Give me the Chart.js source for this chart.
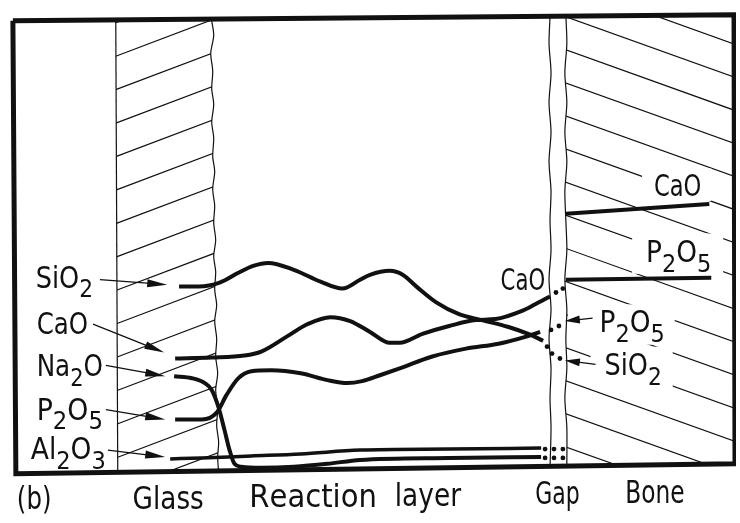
<!DOCTYPE html>
<html>
<head>
<meta charset="utf-8">
<script src="https://cdn.jsdelivr.net/npm/chart.js@4.4.1/dist/chart.umd.min.js"></script>
<style>
  html, body { margin: 0; background: #fff; }
  canvas { display: block; }
</style>
</head>
<body>
<canvas id="diagram" width="740" height="523"></canvas>
<script>
// values, in drawing units (x to the right, y downwards)

// concentration traces across glass / reaction layer
const sio2Trace = [[177,287],[197,287],[218,283],[237,273],[252,266],[267,263],[293,270],[320,282],[342,289],[360,280],[370,275],[390,271],[403,275],[417,287],[437,303],[460,315],[483,321],[510,328],[530,335],[545,342]];
const caoTrace = [[173,360],[210,359],[243,357],[260,353],[287,337],[307,325],[330,318],[350,322],[370,333],[390,344],[400,344],[423,335],[450,327],[477,321],[497,320],[523,312],[537,305],[552,297]];
const na2oTrace = [[172,378],[190,380],[203,385],[210,392],[217,410],[223,433],[228,453],[233,467],[240,470],[260,471],[293,470],[327,467],[360,463],[450,461],[543,460]];
const p2o5Trace = [[173,422],[200,422],[215,415],[225,397],[237,380],[250,373],[270,372],[300,375],[327,382],[347,385],[362,383],[380,377],[400,370],[433,358],[467,350],[500,345],[527,338],[542,333]];
const al2o3Trace = [[168,462],[200,461],[250,459],[300,457],[360,453],[450,452],[543,451]];

// levels in the bone
const caoBone = [[568,213],[713,203]];
const p2o5Bone = [[568,280],[715,278]];

// dotted continuation across the gap
const caoGapDots = [[558,293],[565,289]];
const p2o5GapDots = [[553,331],[561,327]];
const sio2GapDots = [[549,348],[554,355],[562,360]];
const al2o3GapDots = [[547,452],[556,452],[565,452]];
const na2oGapDots = [[547,461],[556,461],[565,461]];

// region outlines
const frameOutline = [[9,17],[738,11],[739,467],[12,477],[9,17]];
const glassInner = [[113,17],[115,476]];
const glassEdge = [[210,17],[212,32],[209,50],[211,68],[210,86],[212,102],[210,120],[212,136],[211,155],[213,170],[211,188],[213,205],[212,222],[214,240],[212,256],[214,272],[213,290],[215,306],[213,322],[215,340],[214,358],[216,375],[214,392],[216,410],[215,428],[217,445],[216,460],[217,476]];
const gapLeft = [[552,13],[551,40],[553,70],[551,100],[553,130],[551,160],[553,190],[552,220],[553,250],[551,280],[553,310],[551,340],[553,370],[552,400],[553,430],[552,470]];
const gapRight = [[568,12],[569,40],[567,70],[569,100],[567,130],[569,160],[567,190],[568,220],[569,250],[567,280],[569,310],[568,340],[569,370],[567,400],[569,430],[569,468]];

const pts = a => a.map(([x, y]) => ({ x, y }));
const INK = '#111';

const trace = (d, w) => ({ data: pts(d), borderColor: INK, borderWidth: w, pointRadius: 0, cubicInterpolationMode: 'monotone', fill: false });
const outline = (d, w, t) => ({ data: pts(d), borderColor: INK, borderWidth: w, pointRadius: 0, tension: t, fill: false });
const dots = d => ({ data: pts(d), showLine: false, pointRadius: 2.4, pointBackgroundColor: INK, pointBorderWidth: 0 });

// labels: t uses "_" for a subscript character; w = width the text should span
const labels = [
  { t: 'SiO_2', x: 32, y: 288, w: 58, size: 30 },
  { t: 'CaO', x: 33, y: 335, w: 52, size: 30 },
  { t: 'Na_2O', x: 33, y: 378, w: 67, size: 30 },
  { t: 'P_2O_5', x: 33, y: 422, w: 67, size: 30 },
  { t: 'Al_2O_3', x: 27, y: 462, w: 76, size: 30 },
  { t: 'CaO', x: 502, y: 290, w: 45, size: 30 },
  { t: 'CaO', x: 657, y: 195, w: 48, size: 30, box: [645, 167, 715, 200] },
  { t: 'P_2O_5', x: 649, y: 262, w: 66, size: 30, box: [635, 233, 727, 274] },
  { t: 'P_2O_5', x: 602, y: 333, w: 66, size: 30, box: [570, 305, 678, 346] },
  { t: 'SiO_2', x: 607, y: 377, w: 58, size: 30, box: [593, 348, 676, 390] },
  { t: '(b)', x: 13, y: 513, w: 35, size: 32 },
  { t: 'Glass', x: 130, y: 513, w: 72, size: 32 },
  { t: 'Reaction', x: 248, y: 511, w: 129, size: 32 },
  { t: 'layer', x: 395, y: 510, w: 67, size: 32 },
  { t: 'Gap', x: 537, y: 508, w: 45, size: 32 },
  { t: 'Bone', x: 628, y: 507, w: 60, size: 32 }
];

// leader arrows: from label to tip
const arrows = [
  [97, 280, 165, 285], [90, 325, 162, 354], [103, 367, 163, 378],
  [103, 412, 163, 422], [105, 453, 163, 460],
  [595, 319, 567, 322], [598, 366, 567, 362]
];

const hatchPlugin = {
  id: 'hatch',
  beforeDatasetsDraw(chart) {
    const { ctx } = chart;
    const X = v => chart.scales.x.getPixelForValue(v);
    const Y = v => chart.scales.y.getPixelForValue(v);
    const clipTo = poly => {
      ctx.beginPath();
      poly.forEach(([x, y], i) => i ? ctx.lineTo(X(x), Y(y)) : ctx.moveTo(X(x), Y(y)));
      ctx.closePath();
      ctx.clip();
    };
    ctx.save();
    ctx.strokeStyle = INK;
    ctx.lineWidth = 1.2;

    // glass: lines rising to the right
    ctx.save();
    clipTo([glassInner[0], ...glassEdge, glassInner[1]]);
    for (let k = 0; k < 15; k++) {
      const y0 = 19 + 34 * k;
      ctx.beginPath();
      ctx.moveTo(X(113), Y(y0));
      ctx.lineTo(X(220), Y(y0 - 0.38 * 107));
      ctx.stroke();
    }
    ctx.restore();

    // bone: lines falling to the right
    ctx.save();
    clipTo([...gapRight, [739, 467], [738, 11]]);
    for (let k = -6; k < 15; k++) {
      const y0 = 13 + 33.6 * k;
      ctx.beginPath();
      ctx.moveTo(X(566), Y(y0 - 0.36 * 2));
      ctx.lineTo(X(742), Y(y0 + 0.36 * 174));
      ctx.stroke();
    }
    ctx.restore();

    // clear the hatching behind the bone labels
    ctx.fillStyle = '#fff';
    labels.filter(l => l.box).forEach(l => {
      const [x1, y1, x2, y2] = l.box;
      ctx.fillRect(X(x1), Y(y1), X(x2) - X(x1), Y(y2) - Y(y1));
    });
    ctx.restore();
  }
};

const annotatePlugin = {
  id: 'annotate',
  afterDatasetsDraw(chart) {
    const { ctx } = chart;
    const X = v => chart.scales.x.getPixelForValue(v);
    const Y = v => chart.scales.y.getPixelForValue(v);
    ctx.save();
    ctx.strokeStyle = INK;
    ctx.fillStyle = INK;

    arrows.forEach(([x1, y1, x2, y2]) => {
      const ax = X(x1), ay = Y(y1), bx = X(x2), by = Y(y2);
      const ang = Math.atan2(by - ay, bx - ax);
      const len = Math.hypot(bx - ax, by - ay) > 40 ? 20 : 15;
      ctx.lineWidth = 1.3;
      ctx.beginPath();
      ctx.moveTo(ax, ay);
      ctx.lineTo(bx - len * Math.cos(ang) * 0.5, by - len * Math.sin(ang) * 0.5);
      ctx.stroke();
      ctx.beginPath();
      ctx.moveTo(bx, by);
      ctx.lineTo(bx - len * Math.cos(ang) + 4 * Math.sin(ang), by - len * Math.sin(ang) - 4 * Math.cos(ang));
      ctx.lineTo(bx - len * Math.cos(ang) - 4 * Math.sin(ang), by - len * Math.sin(ang) + 4 * Math.cos(ang));
      ctx.closePath();
      ctx.fill();
    });

    labels.forEach(l => {
      const parts = [];
      for (let i = 0; i < l.t.length; i++) {
        if (l.t[i] === '_') { parts.push({ c: l.t[i + 1], sub: true }); i++; }
        else parts.push({ c: l.t[i], sub: false });
      }
      const font = s => `${s}px "DejaVu Sans", sans-serif`;
      const subSize = l.size * 0.85;
      let natural = 0;
      parts.forEach(p => {
        ctx.font = font(p.sub ? subSize : l.size);
        p.w = ctx.measureText(p.c).width;
        natural += p.w;
      });
      const target = X(l.x + l.w) - X(l.x);
      ctx.save();
      ctx.translate(X(l.x), Y(l.y));
      ctx.scale(target / natural, 1);
      ctx.textBaseline = 'alphabetic';
      let cx = 0;
      parts.forEach(p => {
        ctx.font = font(p.sub ? subSize : l.size);
        ctx.fillText(p.c, cx, p.sub ? l.size * 0.33 : 0);
        cx += p.w;
      });
      ctx.restore();
    });
    ctx.restore();
  }
};

new Chart(document.getElementById('diagram'), {
  type: 'line',
  data: {
    datasets: [
      trace(sio2Trace, 4),
      trace(caoTrace, 4),
      trace(na2oTrace, 4),
      trace(p2o5Trace, 4),
      trace(al2o3Trace, 3.5),
      outline(caoBone, 4, 0),
      outline(p2o5Bone, 4, 0),
      dots(caoGapDots),
      dots(p2o5GapDots),
      dots(sio2GapDots),
      dots(al2o3GapDots),
      dots(na2oGapDots),
      outline(glassInner, 1.2, 0),
      outline(glassEdge, 1.2, 0.3),
      outline(gapLeft, 1.2, 0.3),
      outline(gapRight, 1.2, 0.3),
      outline(frameOutline, 5, 0)
    ]
  },
  options: {
    responsive: false,
    animation: false,
    events: [],
    layout: { padding: 0 },
    plugins: { legend: { display: false }, tooltip: { enabled: false } },
    scales: {
      x: { type: 'linear', min: 0, max: 740, display: false },
      y: { type: 'linear', min: 0, max: 523, reverse: true, display: false }
    }
  },
  plugins: [hatchPlugin, annotatePlugin]
});
</script>
</body>
</html>
